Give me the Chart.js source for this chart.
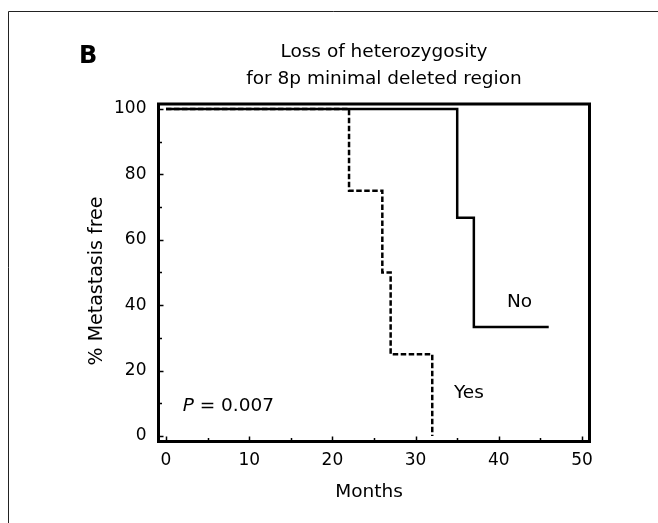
<!DOCTYPE html>
<html>
<head>
<meta charset="utf-8">
<script src="https://cdn.jsdelivr.net/npm/chart.js@4"></script>
<style>
  html, body { margin: 0; padding: 0; background: #fff; }
  #wrap { width: 658px; height: 523px; }
</style>
</head>
<body>
<div id="wrap"><canvas id="chart" width="658" height="523"></canvas></div>
<script>
// data
const noMonths = [0, 35, 37, 46];
const noFree = [100, 66.7, 33.3, 33.3];
const yesMonths = [0, 22, 26, 27, 32];
const yesFree = [100, 75, 50, 25, 0];

const xTicks = [0, 10, 20, 30, 40, 50];
const xMinor = [5, 15, 25, 35, 45];
const yTicks = [0, 20, 40, 60, 80, 100];
const yMinor = [10, 30, 50, 70, 90];

const FONT = "'DejaVu Sans', sans-serif";
Chart.defaults.font.family = FONT;
Chart.defaults.color = '#000';

const toPoints = (xs, ys) => xs.map((x, i) => ({ x, y: ys[i] }));

// frame, inward ticks and the loose text
const decor = {
  id: 'decor',
  beforeDraw(chart) {
    const ctx = chart.ctx;
    ctx.save();
    ctx.strokeStyle = '#222';
    ctx.lineWidth = 1;
    ctx.beginPath();
    ctx.moveTo(8.5, 523);
    ctx.lineTo(8.5, 11.5);
    ctx.lineTo(658, 11.5);
    ctx.stroke();
    ctx.restore();
  },
  afterDraw(chart) {
    const { ctx, chartArea: a, scales: { x, y } } = chart;
    ctx.save();
    ctx.strokeStyle = '#000';
    ctx.lineWidth = 1.5;
    ctx.beginPath();
    xTicks.concat(xMinor).forEach((v) => {
      const len = xTicks.includes(v) ? 5 : 3.5;
      const px = Math.round(x.getPixelForValue(v)) + 0.5;
      ctx.moveTo(px, a.bottom);
      ctx.lineTo(px, a.bottom - len);
    });
    yTicks.concat(yMinor).forEach((v) => {
      const len = yTicks.includes(v) ? 5 : 3.5;
      const py = Math.round(y.getPixelForValue(v)) + 0.5;
      ctx.moveTo(a.left, py);
      ctx.lineTo(a.left + len, py);
    });
    ctx.stroke();

    ctx.lineWidth = 3;
    ctx.strokeRect(a.left, a.top, a.right - a.left, a.bottom - a.top);

    ctx.fillStyle = '#000';
    ctx.textBaseline = 'alphabetic';

    ctx.font = 'bold 24px ' + FONT;
    ctx.textAlign = 'left';
    ctx.fillText('B', 79, 63);

    ctx.font = '18.5px ' + FONT;
    ctx.textAlign = 'center';
    const cx = 384;
    ctx.fillText('Loss of heterozygosity', cx, 57);
    ctx.fillText('for 8p minimal deleted region', cx, 84);

    ctx.fillText('Months', 369, 497);

    ctx.save();
    ctx.translate(102, 281);
    ctx.rotate(-Math.PI / 2);
    ctx.font = '19px ' + FONT;
    ctx.fillText('% Metastasis free', 0, 0);
    ctx.restore();

    // curve labels, placed on the data scales
    ctx.fillText('No', x.getPixelForValue(42.5), y.getPixelForValue(39.5));
    ctx.fillText('Yes', x.getPixelForValue(36.4), y.getPixelForValue(11.5));

    ctx.textAlign = 'left';
    let px = x.getPixelForValue(2.0);
    const py = y.getPixelForValue(7.6);
    ctx.font = 'italic 18.5px ' + FONT;
    ctx.fillText('P', px, py);
    px += ctx.measureText('P').width;
    ctx.font = '18.5px ' + FONT;
    ctx.fillText(' = 0.007', px, py);
    ctx.restore();
  }
};

new Chart(document.getElementById('chart'), {
  type: 'line',
  data: {
    datasets: [
      {
        label: 'No',
        data: toPoints(noMonths, noFree),
        stepped: 'before',
        borderColor: '#000',
        borderWidth: 2.5,
        pointRadius: 0,
        fill: false,
      },
      {
        label: 'Yes',
        data: toPoints(yesMonths, yesFree),
        stepped: 'before',
        borderColor: '#000',
        borderWidth: 2.5,
        borderDash: [5.5, 2.5],
        pointRadius: 0,
        fill: false,
      },
    ],
  },
  options: {
    responsive: false,
    animation: false,
    events: [],
    layout: { padding: { left: 0, right: 68.5, top: 104, bottom: 0 } },
    plugins: {
      legend: { display: false },
      tooltip: { enabled: false },
    },
    scales: {
      x: {
        type: 'linear',
        min: -0.9,
        max: 50.9,
        grid: { display: false, drawTicks: false },
        border: { display: false },
        afterBuildTicks: (s) => { s.ticks = xTicks.map((v) => ({ value: v })); },
        afterFit: (s) => { s.height = 81.5; },
        ticks: { padding: 9, font: { size: 17 }, maxRotation: 0 },
      },
      y: {
        type: 'linear',
        min: -1.7,
        max: 101.5,
        grid: { display: false, drawTicks: false },
        border: { display: false },
        afterBuildTicks: (s) => { s.ticks = yTicks.map((v) => ({ value: v })); },
        afterFit: (s) => { s.width = 158.5; },
        ticks: { padding: 12, font: { size: 17 } },
      },
    },
  },
  plugins: [decor],
});
</script>
</body>
</html>
